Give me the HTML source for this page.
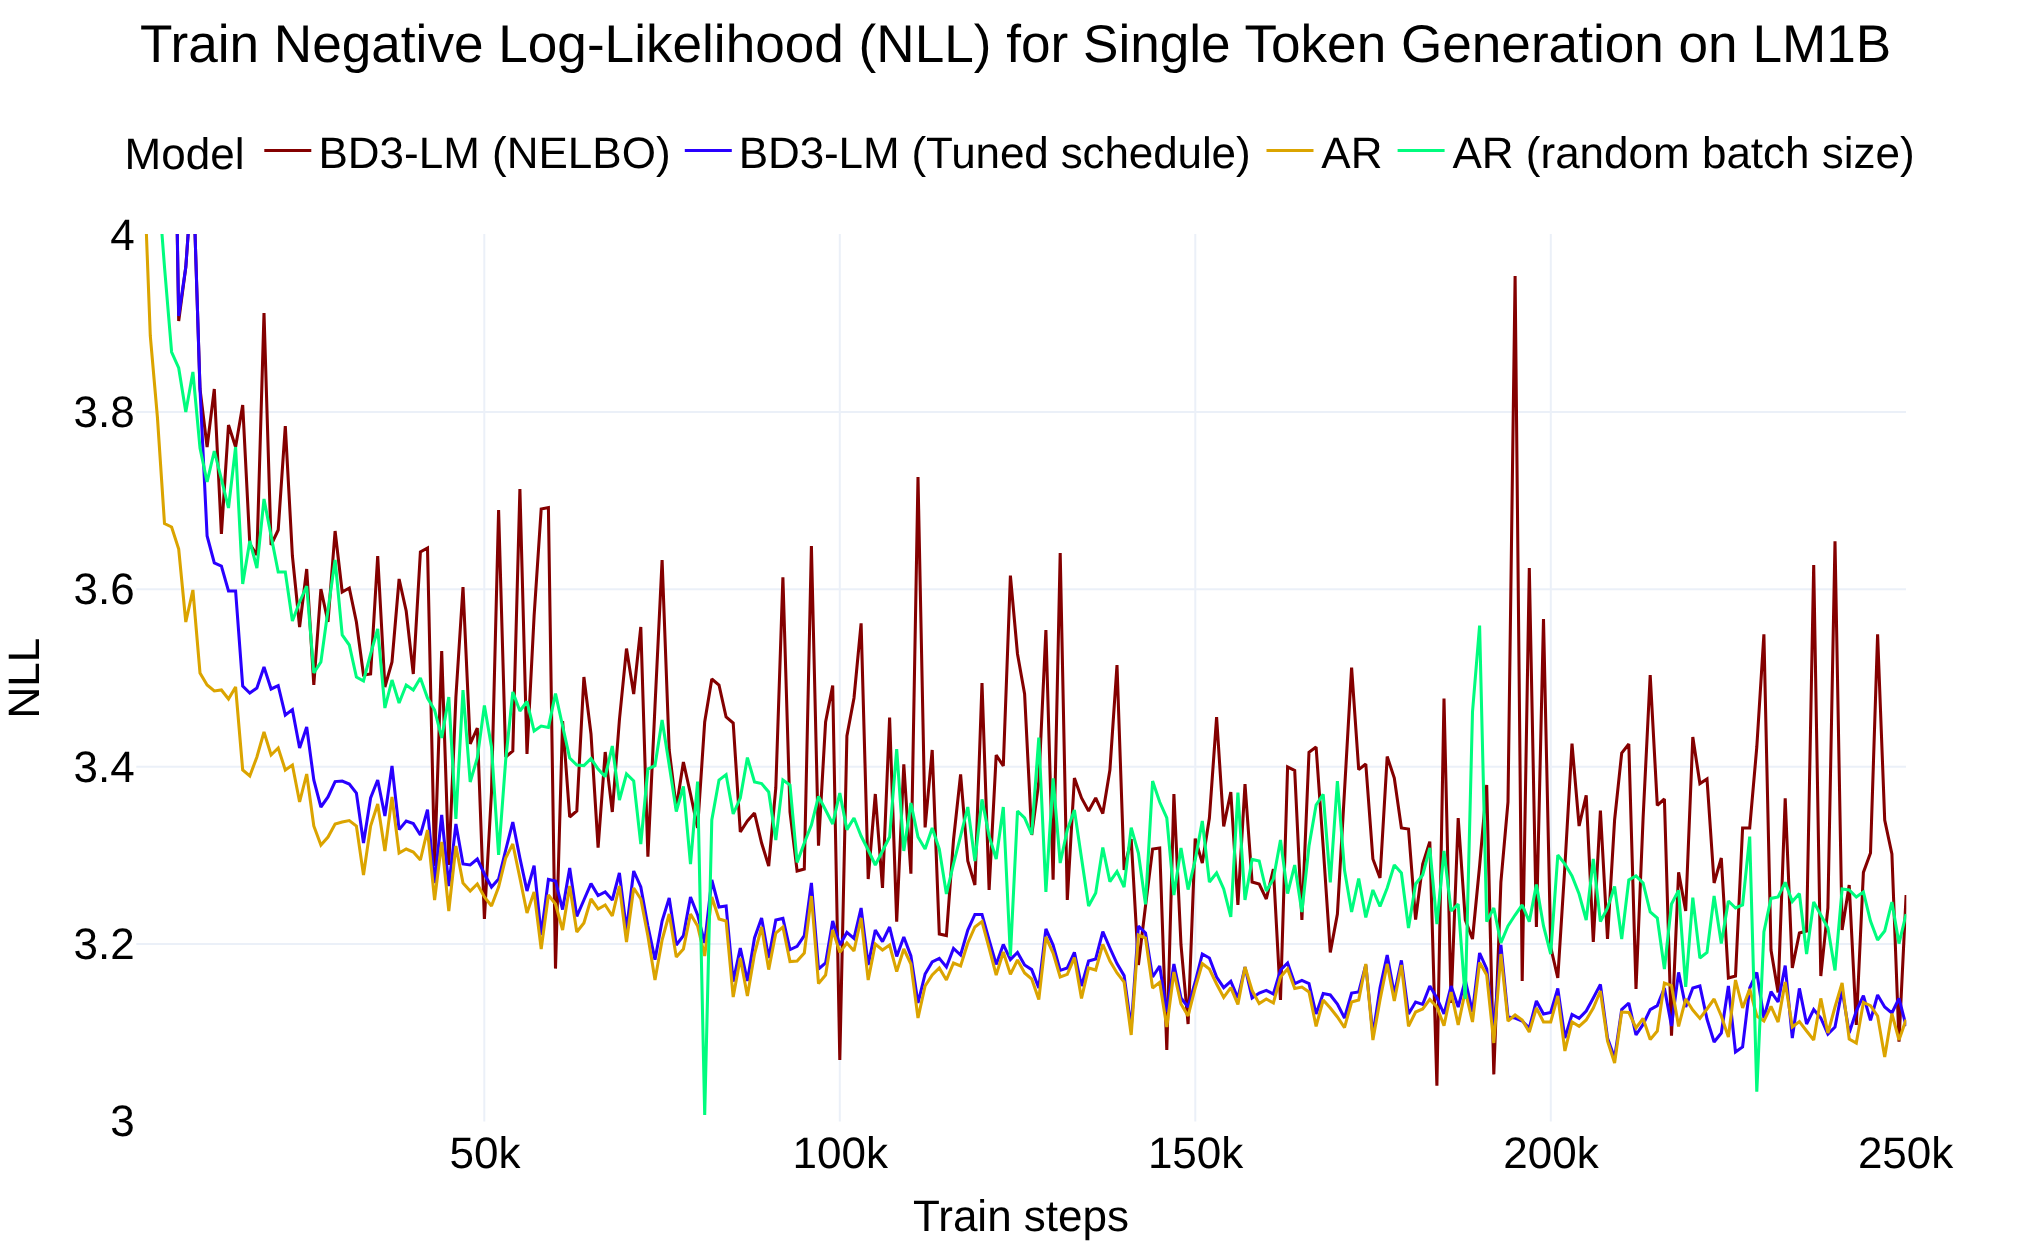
<!DOCTYPE html><html lang="en"><head><meta charset="utf-8"><title>Chart</title><style>html,body{margin:0;padding:0;background:#fff}body{width:2031px;height:1250px;overflow:hidden}</style></head><body><svg width="2031" height="1250" viewBox="0 0 2031 1250" style="display:block;will-change:transform">
<rect width="2031" height="1250" fill="#fff"/>
<line x1="484.3" x2="484.3" y1="234" y2="1121.5" stroke="#ebf0f8" stroke-width="2"/>
<line x1="839.8" x2="839.8" y1="234" y2="1121.5" stroke="#ebf0f8" stroke-width="2"/>
<line x1="1195.3" x2="1195.3" y1="234" y2="1121.5" stroke="#ebf0f8" stroke-width="2"/>
<line x1="1550.8" x2="1550.8" y1="234" y2="1121.5" stroke="#ebf0f8" stroke-width="2"/>
<line x1="136.3" x2="1906" y1="412" y2="412" stroke="#ebf0f8" stroke-width="2"/>
<line x1="136.3" x2="1906" y1="589.3" y2="589.3" stroke="#ebf0f8" stroke-width="2"/>
<line x1="136.3" x2="1906" y1="766.7" y2="766.7" stroke="#ebf0f8" stroke-width="2"/>
<line x1="136.3" x2="1906" y1="944.1" y2="944.1" stroke="#ebf0f8" stroke-width="2"/>
<defs><clipPath id="c"><rect x="137" y="234" width="1769.3" height="888"/></clipPath></defs>
<g clip-path="url(#c)">
<polyline points="171.6,-100.0 178.7,321.0 185.8,267.0 192.9,167.0 200.0,389.0 207.1,447.0 214.3,389.0 221.4,534.0 228.5,425.0 235.6,447.0 242.7,405.0 249.8,544.0 256.9,555.0 264.0,313.0 271.1,545.0 278.2,530.0 285.3,426.0 292.4,556.0 299.6,627.0 306.7,569.0 313.8,685.0 320.9,589.0 328.0,622.0 335.1,531.0 342.2,592.0 349.3,588.0 356.4,622.0 363.5,675.0 370.6,674.0 377.7,556.0 384.9,687.0 392.0,662.0 399.1,579.0 406.2,611.0 413.3,674.0 420.4,552.0 427.5,548.0 434.6,866.0 441.7,651.0 448.8,865.0 455.9,697.0 463.0,587.0 470.2,744.0 477.3,728.0 484.4,919.0 491.5,792.0 498.6,510.0 505.7,757.0 512.8,751.0 519.9,489.0 527.0,754.0 534.1,616.0 541.2,509.0 548.4,507.6 555.5,968.6 562.6,721.0 569.7,817.0 576.8,811.0 583.9,677.0 591.0,734.0 598.1,847.6 605.2,752.0 612.3,812.0 619.4,720.0 626.5,648.6 633.7,694.0 640.8,627.0 647.9,856.6 655.0,706.0 662.1,560.0 669.2,750.0 676.3,808.0 683.4,762.0 690.5,794.0 697.6,828.0 704.7,722.0 711.8,679.0 719.0,685.0 726.1,717.0 733.2,723.0 740.3,832.0 747.4,821.0 754.5,813.0 761.6,843.0 768.7,866.0 775.8,788.0 782.9,577.4 790.0,812.0 797.1,871.0 804.3,869.0 811.4,546.0 818.5,845.6 825.6,722.0 832.7,685.6 839.8,1060.0 846.9,736.0 854.0,698.0 861.1,623.4 868.2,879.0 875.3,794.0 882.5,888.0 889.6,717.6 896.7,921.6 903.8,764.4 910.9,873.6 918.0,477.0 925.1,827.4 932.2,750.0 939.3,934.0 946.4,935.6 953.5,840.0 960.6,774.4 967.8,861.0 974.9,885.0 982.0,683.0 989.1,890.0 996.2,755.0 1003.3,766.0 1010.4,575.6 1017.5,654.0 1024.6,694.0 1031.7,835.0 1038.8,782.0 1045.9,630.0 1053.1,879.6 1060.2,553.0 1067.3,900.0 1074.4,778.0 1081.5,798.0 1088.6,811.0 1095.7,798.0 1102.8,813.6 1109.9,770.0 1117.0,665.0 1124.1,870.0 1131.2,839.0 1138.4,965.0 1145.5,906.0 1152.6,849.0 1159.7,848.0 1166.8,1050.0 1173.9,794.0 1181.0,945.0 1188.1,1024.0 1195.2,838.6 1202.3,863.0 1209.4,818.0 1216.6,717.0 1223.7,826.4 1230.8,792.0 1237.9,905.0 1245.0,784.0 1252.1,882.0 1259.2,884.0 1266.3,899.0 1273.4,869.0 1280.5,1000.0 1287.6,767.0 1294.7,770.4 1301.9,920.0 1309.0,752.4 1316.1,747.0 1323.2,847.0 1330.3,952.4 1337.4,914.0 1344.5,791.0 1351.6,667.6 1358.7,769.6 1365.8,764.0 1372.9,859.0 1380.0,878.0 1387.2,756.6 1394.3,778.0 1401.4,828.0 1408.5,829.0 1415.6,919.6 1422.7,864.0 1429.8,841.6 1436.9,1085.6 1444.0,698.6 1451.1,1003.0 1458.2,818.0 1465.3,920.0 1472.5,939.0 1479.6,866.0 1486.7,785.0 1493.8,1074.4 1500.9,882.0 1508.0,802.0 1515.1,276.0 1522.2,981.0 1529.3,568.0 1536.4,927.0 1543.5,619.0 1550.7,947.0 1557.8,978.0 1564.9,866.0 1572.0,743.6 1579.1,826.0 1586.2,795.4 1593.3,942.0 1600.4,810.6 1607.5,939.0 1614.6,820.0 1621.7,753.0 1628.8,744.0 1636.0,989.0 1643.1,818.0 1650.2,675.0 1657.3,805.4 1664.4,799.0 1671.5,1035.6 1678.6,872.4 1685.7,911.0 1692.8,737.0 1699.9,783.6 1707.0,779.0 1714.1,883.0 1721.3,858.0 1728.4,978.0 1735.5,976.0 1742.6,828.0 1749.7,828.0 1756.8,747.0 1763.9,634.4 1771.0,950.0 1778.1,992.4 1785.2,798.4 1792.3,968.0 1799.4,933.0 1806.6,931.0 1813.7,565.0 1820.8,976.0 1827.9,908.0 1835.0,541.4 1842.1,930.0 1849.2,885.0 1856.3,1025.0 1863.4,872.4 1870.5,853.0 1877.6,634.4 1884.7,820.0 1891.9,854.0 1899.0,1041.6 1906.1,895.0" fill="none" stroke="#840000" stroke-width="3.05" stroke-linejoin="miter" stroke-miterlimit="2"/>
<polyline points="171.6,-100.0 178.7,316.0 185.8,267.0 192.9,167.0 200.0,389.0 207.1,536.0 214.3,563.0 221.4,566.0 228.5,591.0 235.6,591.0 242.7,686.0 249.8,693.0 256.9,688.0 264.0,667.0 271.1,689.0 278.2,685.6 285.3,715.0 292.4,709.6 299.6,748.0 306.7,727.0 313.8,780.0 320.9,807.0 328.0,797.0 335.1,781.6 342.2,781.0 349.3,784.0 356.4,793.0 363.5,843.0 370.6,798.0 377.7,780.0 384.9,816.0 392.0,766.0 399.1,829.6 406.2,821.0 413.3,823.6 420.4,835.0 427.5,809.6 434.6,883.0 441.7,815.0 448.8,886.0 455.9,824.0 463.0,864.0 470.2,865.0 477.3,859.0 484.4,874.0 491.5,887.0 498.6,879.0 505.7,850.0 512.8,822.0 519.9,858.0 527.0,891.0 534.1,865.6 541.2,935.0 548.4,879.4 555.5,881.0 562.6,909.6 569.7,868.0 576.8,916.4 583.9,900.0 591.0,883.6 598.1,895.6 605.2,892.0 612.3,900.0 619.4,873.0 626.5,930.0 633.7,871.0 640.8,887.0 647.9,926.0 655.0,959.6 662.1,921.0 669.2,898.0 676.3,945.0 683.4,935.6 690.5,897.0 697.6,915.0 704.7,943.0 711.8,880.0 719.0,907.0 726.1,906.0 733.2,981.6 740.3,948.0 747.4,981.0 754.5,938.0 761.6,918.0 768.7,958.0 775.8,920.0 782.9,918.4 790.0,949.6 797.1,946.4 804.3,935.6 811.4,883.0 818.5,969.0 825.6,963.0 832.7,921.0 839.8,945.0 846.9,932.4 854.0,938.4 861.1,908.0 868.2,965.0 875.3,930.0 882.5,941.6 889.6,927.0 896.7,956.4 903.8,937.0 910.9,956.0 918.0,1003.0 925.1,974.0 932.2,962.0 939.3,958.4 946.4,967.0 953.5,948.4 960.6,955.0 967.8,930.0 974.9,914.4 982.0,914.4 989.1,940.0 996.2,964.4 1003.3,944.4 1010.4,959.6 1017.5,952.4 1024.6,965.0 1031.7,969.6 1038.8,988.0 1045.9,929.0 1053.1,945.0 1060.2,970.4 1067.3,968.0 1074.4,952.4 1081.5,986.0 1088.6,961.0 1095.7,959.0 1102.8,931.6 1109.9,948.0 1117.0,963.6 1124.1,975.6 1131.2,1028.0 1138.4,926.0 1145.5,933.0 1152.6,977.0 1159.7,966.0 1166.8,1012.0 1173.9,964.0 1181.0,998.0 1188.1,1007.0 1195.2,982.0 1202.3,954.0 1209.4,958.0 1216.6,977.0 1223.7,987.6 1230.8,981.4 1237.9,998.0 1245.0,967.0 1252.1,998.0 1259.2,993.0 1266.3,990.4 1273.4,994.0 1280.5,970.0 1287.6,963.0 1294.7,983.6 1301.9,980.4 1309.0,983.6 1316.1,1014.0 1323.2,993.6 1330.3,995.0 1337.4,1004.0 1344.5,1018.0 1351.6,993.0 1358.7,992.0 1365.8,965.0 1372.9,1035.0 1380.0,988.0 1387.2,955.0 1394.3,994.0 1401.4,960.4 1408.5,1014.0 1415.6,1002.0 1422.7,1004.4 1429.8,986.0 1436.9,998.0 1444.0,1014.0 1451.1,986.0 1458.2,1007.0 1465.3,980.0 1472.5,1012.0 1479.6,953.0 1486.7,969.0 1493.8,1030.0 1500.9,945.0 1508.0,1017.0 1515.1,1018.0 1522.2,1021.0 1529.3,1028.0 1536.4,1001.0 1543.5,1014.0 1550.7,1012.4 1557.8,988.4 1564.9,1038.0 1572.0,1014.4 1579.1,1018.4 1586.2,1011.0 1593.3,998.0 1600.4,984.4 1607.5,1038.0 1614.6,1058.0 1621.7,1009.6 1628.8,1003.0 1636.0,1035.0 1643.1,1024.4 1650.2,1009.6 1657.3,1005.6 1664.4,988.0 1671.5,1026.0 1678.6,972.4 1685.7,1007.0 1692.8,988.0 1699.9,986.0 1707.0,1019.0 1714.1,1042.0 1721.3,1033.0 1728.4,986.0 1735.5,1052.0 1742.6,1047.0 1749.7,988.0 1756.8,972.4 1763.9,1018.0 1771.0,991.6 1778.1,1002.0 1785.2,965.6 1792.3,1038.0 1799.4,988.4 1806.6,1024.0 1813.7,1009.6 1820.8,1018.0 1827.9,1034.0 1835.0,1027.0 1842.1,990.0 1849.2,1033.0 1856.3,1011.0 1863.4,995.6 1870.5,1020.4 1877.6,995.0 1884.7,1007.0 1891.9,1013.0 1899.0,998.4 1906.1,1026.0" fill="none" stroke="#2900ff" stroke-width="3.05" stroke-linejoin="miter" stroke-miterlimit="2"/>
<polyline points="143.2,150.0 150.3,336.0 157.4,417.0 164.5,523.5 171.6,527.0 178.7,549.0 185.8,622.0 192.9,590.0 200.0,673.0 207.1,685.0 214.3,691.0 221.4,690.0 228.5,699.0 235.6,687.0 242.7,770.0 249.8,776.0 256.9,757.0 264.0,732.0 271.1,755.0 278.2,748.0 285.3,770.0 292.4,765.0 299.6,802.0 306.7,774.0 313.8,826.0 320.9,845.0 328.0,837.0 335.1,824.0 342.2,822.0 349.3,820.6 356.4,826.0 363.5,875.0 370.6,826.0 377.7,804.0 384.9,851.0 392.0,797.0 399.1,853.0 406.2,849.0 413.3,852.0 420.4,860.0 427.5,830.0 434.6,900.0 441.7,842.0 448.8,911.0 455.9,846.0 463.0,883.0 470.2,891.0 477.3,884.0 484.4,897.0 491.5,906.0 498.6,887.0 505.7,858.0 512.8,844.0 519.9,878.0 527.0,913.0 534.1,892.0 541.2,949.0 548.4,895.0 555.5,904.0 562.6,930.0 569.7,886.0 576.8,932.0 583.9,923.0 591.0,899.0 598.1,909.0 605.2,905.0 612.3,916.0 619.4,886.0 626.5,942.0 633.7,888.0 640.8,899.0 647.9,936.0 655.0,980.0 662.1,940.0 669.2,914.0 676.3,957.0 683.4,949.0 690.5,914.0 697.6,926.0 704.7,956.0 711.8,897.0 719.0,919.0 726.1,921.0 733.2,997.0 740.3,958.0 747.4,996.0 754.5,954.0 761.6,927.0 768.7,969.6 775.8,933.0 782.9,927.0 790.0,961.6 797.1,961.0 804.3,953.0 811.4,896.0 818.5,983.6 825.6,975.0 832.7,930.0 839.8,952.4 846.9,943.0 854.0,951.0 861.1,918.0 868.2,980.0 875.3,944.0 882.5,950.0 889.6,945.0 896.7,971.6 903.8,949.0 910.9,964.0 918.0,1018.0 925.1,986.0 932.2,975.0 939.3,968.0 946.4,980.0 953.5,963.0 960.6,966.0 967.8,943.0 974.9,927.0 982.0,921.6 989.1,948.0 996.2,975.0 1003.3,952.0 1010.4,974.4 1017.5,960.0 1024.6,973.0 1031.7,979.0 1038.8,999.6 1045.9,937.0 1053.1,953.0 1060.2,977.0 1067.3,974.4 1074.4,957.6 1081.5,998.4 1088.6,968.0 1095.7,970.0 1102.8,944.4 1109.9,961.0 1117.0,973.0 1124.1,982.0 1131.2,1035.0 1138.4,935.0 1145.5,938.0 1152.6,988.0 1159.7,982.4 1166.8,1027.0 1173.9,972.0 1181.0,1004.0 1188.1,1016.0 1195.2,988.0 1202.3,963.6 1209.4,969.0 1216.6,984.0 1223.7,997.4 1230.8,987.6 1237.9,1004.4 1245.0,967.0 1252.1,990.4 1259.2,1003.6 1266.3,999.0 1273.4,1003.0 1280.5,977.0 1287.6,969.0 1294.7,988.4 1301.9,987.0 1309.0,992.0 1316.1,1026.4 1323.2,1000.0 1330.3,1008.0 1337.4,1017.0 1344.5,1027.6 1351.6,1002.0 1358.7,1000.0 1365.8,964.0 1372.9,1040.0 1380.0,1000.0 1387.2,964.0 1394.3,1001.0 1401.4,965.0 1408.5,1026.4 1415.6,1012.0 1422.7,1009.0 1429.8,999.4 1436.9,1007.0 1444.0,1025.6 1451.1,992.0 1458.2,1025.0 1465.3,991.0 1472.5,1022.0 1479.6,962.4 1486.7,975.0 1493.8,1043.0 1500.9,954.0 1508.0,1021.0 1515.1,1015.0 1522.2,1020.0 1529.3,1032.0 1536.4,1008.0 1543.5,1022.0 1550.7,1022.0 1557.8,996.0 1564.9,1051.0 1572.0,1022.0 1579.1,1026.4 1586.2,1020.0 1593.3,1008.0 1600.4,991.0 1607.5,1041.0 1614.6,1063.0 1621.7,1012.0 1628.8,1012.4 1636.0,1028.0 1643.1,1018.4 1650.2,1039.6 1657.3,1031.0 1664.4,983.0 1671.5,985.6 1678.6,1026.4 1685.7,999.0 1692.8,1010.0 1699.9,1018.4 1707.0,1009.0 1714.1,999.0 1721.3,1016.0 1728.4,1037.0 1735.5,980.0 1742.6,1008.0 1749.7,989.0 1756.8,1016.0 1763.9,1021.0 1771.0,1006.4 1778.1,1022.0 1785.2,982.0 1792.3,1027.0 1799.4,1021.6 1806.6,1031.0 1813.7,1040.0 1820.8,998.4 1827.9,1033.0 1835.0,1007.0 1842.1,983.0 1849.2,1039.0 1856.3,1043.0 1863.4,1002.4 1870.5,1005.6 1877.6,1016.0 1884.7,1057.0 1891.9,1013.6 1899.0,1040.0 1906.1,1019.6" fill="none" stroke="#dba400" stroke-width="3.05" stroke-linejoin="miter" stroke-miterlimit="2"/>
<polyline points="157.4,174.0 164.5,267.0 171.6,352.0 178.7,368.0 185.8,412.0 192.9,372.0 200.0,448.0 207.1,482.0 214.3,451.0 221.4,479.0 228.5,508.0 235.6,447.0 242.7,584.0 249.8,541.0 256.9,568.0 264.0,499.0 271.1,536.0 278.2,572.0 285.3,572.0 292.4,621.0 299.6,602.0 306.7,586.0 313.8,673.0 320.9,662.0 328.0,610.0 335.1,560.0 342.2,635.0 349.3,645.0 356.4,677.0 363.5,681.0 370.6,654.0 377.7,629.0 384.9,708.0 392.0,680.0 399.1,703.0 406.2,685.0 413.3,690.0 420.4,678.0 427.5,698.0 434.6,710.0 441.7,738.0 448.8,697.0 455.9,819.0 463.0,690.0 470.2,782.0 477.3,758.0 484.4,705.5 491.5,747.0 498.6,855.0 505.7,760.0 512.8,692.0 519.9,711.0 527.0,701.5 534.1,731.0 541.2,726.0 548.4,727.4 555.5,693.6 562.6,726.0 569.7,758.0 576.8,765.0 583.9,765.6 591.0,758.6 598.1,769.0 605.2,776.6 612.3,746.0 619.4,800.0 626.5,774.0 633.7,781.0 640.8,844.0 647.9,769.0 655.0,765.6 662.1,720.0 669.2,765.0 676.3,811.6 683.4,786.4 690.5,864.0 697.6,781.6 704.7,1115.0 711.8,820.0 719.0,780.0 726.1,774.6 733.2,814.0 740.3,798.0 747.4,757.6 754.5,782.0 761.6,783.6 768.7,792.0 775.8,840.0 782.9,780.0 790.0,785.0 797.1,862.4 804.3,843.0 811.4,825.0 818.5,796.4 825.6,810.0 832.7,824.0 839.8,793.0 846.9,829.6 854.0,818.0 861.1,836.0 868.2,850.0 875.3,865.0 882.5,851.0 889.6,837.0 896.7,749.0 903.8,851.0 910.9,803.0 918.0,837.0 925.1,849.0 932.2,828.0 939.3,849.0 946.4,894.0 953.5,864.0 960.6,836.0 967.8,807.0 974.9,861.0 982.0,799.4 989.1,836.0 996.2,859.0 1003.3,807.0 1010.4,956.0 1017.5,811.0 1024.6,818.0 1031.7,834.4 1038.8,737.6 1045.9,892.0 1053.1,778.4 1060.2,863.0 1067.3,830.0 1074.4,810.0 1081.5,858.0 1088.6,906.0 1095.7,893.0 1102.8,847.6 1109.9,881.6 1117.0,871.6 1124.1,887.0 1131.2,827.6 1138.4,853.0 1145.5,904.4 1152.6,781.0 1159.7,802.0 1166.8,818.0 1173.9,895.0 1181.0,848.0 1188.1,889.6 1195.2,860.0 1202.3,821.0 1209.4,882.0 1216.6,873.0 1223.7,889.0 1230.8,917.0 1237.9,792.6 1245.0,900.0 1252.1,859.4 1259.2,861.0 1266.3,891.0 1273.4,879.0 1280.5,840.0 1287.6,893.6 1294.7,865.0 1301.9,912.0 1309.0,846.0 1316.1,805.0 1323.2,794.4 1330.3,882.4 1337.4,781.0 1344.5,870.0 1351.6,912.0 1358.7,878.6 1365.8,917.4 1372.9,890.0 1380.0,906.4 1387.2,888.0 1394.3,865.0 1401.4,873.0 1408.5,928.0 1415.6,884.0 1422.7,875.0 1429.8,848.0 1436.9,924.0 1444.0,851.0 1451.1,911.0 1458.2,904.0 1465.3,999.0 1472.5,712.0 1479.6,625.6 1486.7,921.6 1493.8,908.0 1500.9,943.0 1508.0,926.0 1515.1,915.0 1522.2,905.0 1529.3,921.6 1536.4,884.6 1543.5,926.0 1550.7,954.0 1557.8,855.0 1564.9,864.0 1572.0,876.0 1579.1,894.0 1586.2,920.0 1593.3,859.0 1600.4,921.6 1607.5,908.0 1614.6,886.4 1621.7,939.0 1628.8,880.0 1636.0,876.0 1643.1,883.0 1650.2,912.0 1657.3,918.0 1664.4,969.0 1671.5,904.0 1678.6,890.4 1685.7,987.0 1692.8,897.6 1699.9,958.0 1707.0,952.4 1714.1,896.0 1721.3,943.6 1728.4,901.0 1735.5,908.0 1742.6,905.0 1749.7,836.6 1756.8,1091.6 1763.9,932.0 1771.0,898.4 1778.1,897.0 1785.2,882.4 1792.3,901.6 1799.4,893.6 1806.6,954.0 1813.7,902.0 1820.8,915.0 1827.9,928.0 1835.0,970.4 1842.1,889.0 1849.2,890.0 1856.3,897.0 1863.4,892.0 1870.5,921.0 1877.6,940.0 1884.7,931.0 1891.9,902.0 1899.0,943.6 1906.1,914.0" fill="none" stroke="#00fc7e" stroke-width="3.05" stroke-linejoin="miter" stroke-miterlimit="2"/>
</g>
<text x="1015.6" y="62.2" text-anchor="middle" font-size="53.13" font-family="Liberation Sans, sans-serif" text-rendering="geometricPrecision" fill="#000">Train Negative Log-Likelihood (NLL) for Single Token Generation on LM1B</text>
<text x="124.6" y="168.5" font-size="44" font-family="Liberation Sans, sans-serif" text-rendering="geometricPrecision">Model</text>
<line x1="264.3" x2="311.3" y1="150.5" y2="150.5" stroke="#840000" stroke-width="3.2"/>
<text x="318.5" y="168" font-size="44" font-family="Liberation Sans, sans-serif" text-rendering="geometricPrecision">BD3-LM (NELBO)</text>
<line x1="684.8" x2="731.8" y1="150.5" y2="150.5" stroke="#2900ff" stroke-width="3.2"/>
<text x="738.8" y="168" font-size="44" letter-spacing="-0.12" font-family="Liberation Sans, sans-serif" text-rendering="geometricPrecision">BD3-LM (Tuned schedule)</text>
<line x1="1266.5" x2="1313.5" y1="150.5" y2="150.5" stroke="#dba400" stroke-width="3.2"/>
<text x="1321.3" y="168" font-size="44" font-family="Liberation Sans, sans-serif" text-rendering="geometricPrecision">AR</text>
<line x1="1397.6" x2="1444.6" y1="150.5" y2="150.5" stroke="#00fc7e" stroke-width="3.2"/>
<text x="1452.5" y="168" font-size="44" font-family="Liberation Sans, sans-serif" text-rendering="geometricPrecision">AR (random batch size)</text>
<text x="134.7" y="249.9" text-anchor="end" font-size="44" font-family="Liberation Sans, sans-serif" text-rendering="geometricPrecision">4</text>
<text x="134.7" y="426.9" text-anchor="end" font-size="44" font-family="Liberation Sans, sans-serif" text-rendering="geometricPrecision">3.8</text>
<text x="134.7" y="604.1999999999999" text-anchor="end" font-size="44" font-family="Liberation Sans, sans-serif" text-rendering="geometricPrecision">3.6</text>
<text x="134.7" y="781.5" text-anchor="end" font-size="44" font-family="Liberation Sans, sans-serif" text-rendering="geometricPrecision">3.4</text>
<text x="134.7" y="958.9" text-anchor="end" font-size="44" font-family="Liberation Sans, sans-serif" text-rendering="geometricPrecision">3.2</text>
<text x="134.7" y="1135.9" text-anchor="end" font-size="44" font-family="Liberation Sans, sans-serif" text-rendering="geometricPrecision">3</text>
<text x="485" y="1167.5" text-anchor="middle" font-size="44" font-family="Liberation Sans, sans-serif" text-rendering="geometricPrecision">50k</text>
<text x="840.3" y="1167.5" text-anchor="middle" font-size="44" font-family="Liberation Sans, sans-serif" text-rendering="geometricPrecision">100k</text>
<text x="1195.6" y="1167.5" text-anchor="middle" font-size="44" font-family="Liberation Sans, sans-serif" text-rendering="geometricPrecision">150k</text>
<text x="1551" y="1167.5" text-anchor="middle" font-size="44" font-family="Liberation Sans, sans-serif" text-rendering="geometricPrecision">200k</text>
<text x="1905.6" y="1167.5" text-anchor="middle" font-size="44" font-family="Liberation Sans, sans-serif" text-rendering="geometricPrecision">250k</text>
<text x="1021" y="1231" text-anchor="middle" font-size="44" font-family="Liberation Sans, sans-serif" text-rendering="geometricPrecision">Train steps</text>
<text transform="translate(38.6,678.2) rotate(-90)" text-anchor="middle" font-size="44" font-family="Liberation Sans, sans-serif" text-rendering="geometricPrecision">NLL</text>
</svg></body></html>
